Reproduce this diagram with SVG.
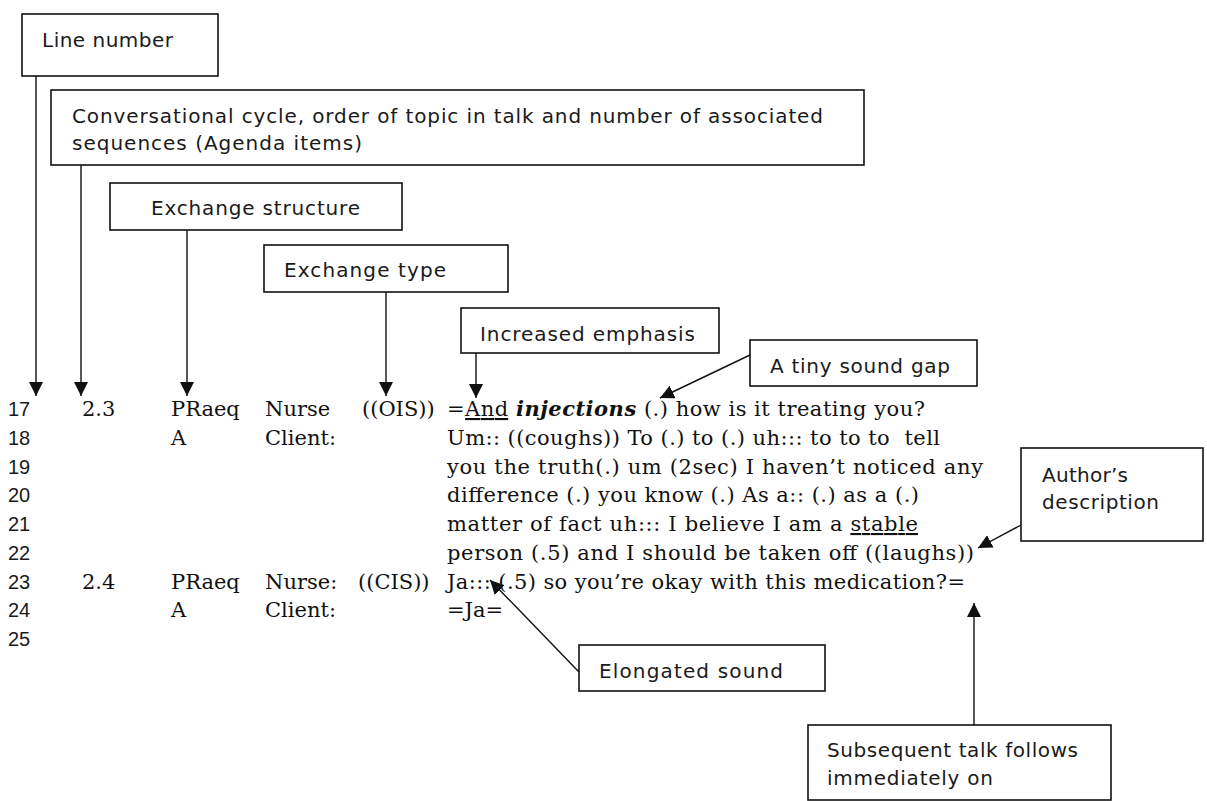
<svg xmlns="http://www.w3.org/2000/svg" width="1207" height="801" viewBox="0 0 1207 801">
<style>
.box{fill:#fff;stroke:#111;stroke-width:1.6}
.lbl{font-family:"DejaVu Sans","Liberation Sans",sans-serif;font-size:20px;fill:#1a1a1a}
.ln{font-family:"Liberation Sans",Arial,sans-serif;font-size:20px;fill:#1a1a1a}
.tr{font-family:"DejaVu Serif","Liberation Serif",serif;font-size:21px;fill:#111}
.con{stroke:#111;stroke-width:1.4;fill:none;marker-end:url(#ah)}
.u{text-decoration:underline}
</style>
<defs>
<marker id="ah" markerUnits="userSpaceOnUse" markerWidth="16" markerHeight="14" refX="14" refY="7" orient="auto">
<path d="M0,0 L14,7 L0,14 Z" fill="#111"/>
</marker>
</defs>
<rect width="1207" height="801" fill="#fff"/>

<g id="connectors">
<line class="con" x1="36" y1="76" x2="36" y2="396"/>
<line class="con" x1="81" y1="165" x2="81" y2="396"/>
<line class="con" x1="187" y1="230" x2="187" y2="396"/>
<line class="con" x1="386" y1="292" x2="386" y2="396"/>
<line class="con" x1="476" y1="353" x2="476" y2="398"/>
<line class="con" x1="750" y1="355" x2="660" y2="398"/>
<line class="con" x1="1021" y1="525" x2="978" y2="548"/>
<line class="con" x1="579" y1="672" x2="490" y2="580"/>
<line class="con" x1="974" y1="725" x2="974" y2="603"/>
</g>

<g id="n-line-number">
<rect class="box" x="22" y="14" width="196" height="62"/>
<text class="lbl" x="42" y="47" textLength="131">Line number</text>
</g>
<g id="n-cycle">
<rect class="box" x="51" y="90" width="813" height="75"/>
<text class="lbl" x="72" y="123" textLength="751">Conversational cycle, order of topic in talk and number of associated</text>
<text class="lbl" x="72" y="150" textLength="290">sequences (Agenda items)</text>
</g>
<g id="n-structure">
<rect class="box" x="110" y="183" width="292" height="47"/>
<text class="lbl" x="151" y="215" textLength="209">Exchange structure</text>
</g>
<g id="n-type">
<rect class="box" x="264" y="245" width="244" height="47"/>
<text class="lbl" x="284" y="277" textLength="162">Exchange type</text>
</g>
<g id="n-emphasis">
<rect class="box" x="461" y="308" width="258" height="45"/>
<text class="lbl" x="480" y="341" textLength="215">Increased emphasis</text>
</g>
<g id="n-gap">
<rect class="box" x="750" y="340" width="227" height="46"/>
<text class="lbl" x="770" y="373" textLength="180">A tiny sound gap</text>
</g>
<g id="n-author">
<rect class="box" x="1021" y="448" width="182" height="93"/>
<text class="lbl" x="1042" y="482" textLength="86">Author’s</text>
<text class="lbl" x="1042" y="509" textLength="117">description</text>
</g>
<g id="n-elongated">
<rect class="box" x="579" y="645" width="246" height="46"/>
<text class="lbl" x="599" y="678" textLength="184">Elongated sound</text>
</g>
<g id="n-subsequent">
<rect class="box" x="808" y="725" width="303" height="75"/>
<text class="lbl" x="827" y="757" textLength="251">Subsequent talk follows</text>
<text class="lbl" x="827" y="785" textLength="166">immediately on</text>
</g>

<g id="transcript">
<text class="ln" x="8" y="416">17</text>
<text class="ln" x="8" y="445">18</text>
<text class="ln" x="8" y="474">19</text>
<text class="ln" x="8" y="502">20</text>
<text class="ln" x="8" y="531">21</text>
<text class="ln" x="8" y="560">22</text>
<text class="ln" x="8" y="589">23</text>
<text class="ln" x="8" y="617">24</text>
<text class="ln" x="8" y="646">25</text>

<text class="tr" x="82" y="416">2.3</text>
<text class="tr" x="82" y="589">2.4</text>
<text class="tr" x="171" y="416">PRaeq</text>
<text class="tr" x="171" y="445">A</text>
<text class="tr" x="171" y="589">PRaeq</text>
<text class="tr" x="171" y="617">A</text>
<text class="tr" x="265" y="416">Nurse</text>
<text class="tr" x="265" y="445">Client:</text>
<text class="tr" x="265" y="589">Nurse:</text>
<text class="tr" x="265" y="617">Client:</text>
<text class="tr" x="362" y="416">((OIS))</text>
<text class="tr" x="358" y="589">((CIS))</text>

<text class="tr" x="447" y="416" textLength="478">=<tspan class="u">And</tspan> <tspan font-weight="bold" font-style="italic">injections</tspan> (.) how is it treating you?</text>
<text class="tr" x="447" y="445" textLength="493">Um:: ((coughs)) To (.) to (.) uh::: to to to&#160; tell</text>
<text class="tr" x="447" y="474" textLength="536">you the truth(.) um (2sec) I haven’t noticed any</text>
<text class="tr" x="447" y="502" textLength="472">difference (.) you know (.) As a:: (.) as a (.)</text>
<text class="tr" x="447" y="531" textLength="471">matter of fact uh::: I believe I am a <tspan class="u">stable</tspan></text>
<text class="tr" x="447" y="560" textLength="527">person (.5) and I should be taken off ((laughs))</text>
<text class="tr" x="447" y="589" textLength="518">Ja::: (.5) so you’re okay with this medication?=</text>
<text class="tr" x="447" y="617">=Ja=</text>
</g>
</svg>
